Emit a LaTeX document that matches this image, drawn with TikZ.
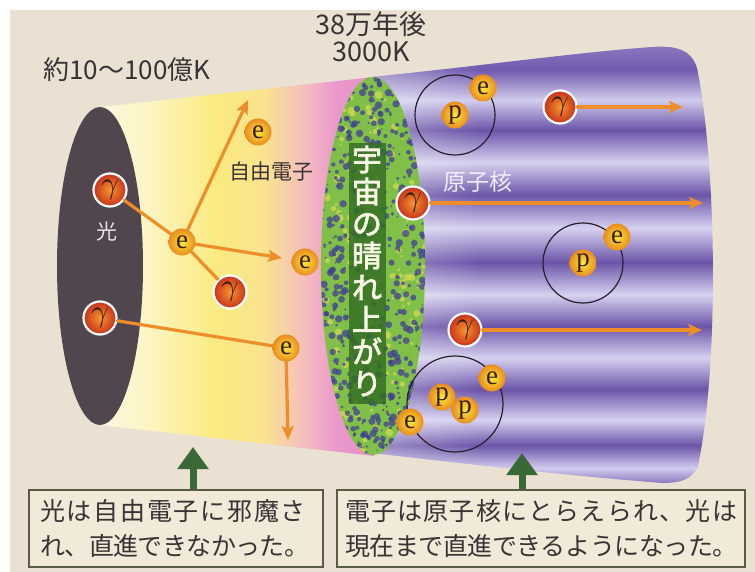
\documentclass[tikz,border=0pt]{standalone}
\usepackage{fontspec}
\usepackage{graphicx}
\newfontfamily\jp{Noto Sans CJK JP}
\newfontfamily\jpheavy{Noto Sans CJK JP}[FakeBold=2.5]
\newfontfamily\serifletters{Liberation Serif}
\usetikzlibrary{arrows.meta,fadings}

\definecolor{paper}{RGB}{234,225,210}
\definecolor{disc}{RGB}{82,70,78}
\definecolor{leaf}{RGB}{128,192,72}
\definecolor{mottle}{RGB}{66,64,146}
\definecolor{speck}{RGB}{205,215,80}
\definecolor{ray}{RGB}{238,142,42}
\definecolor{inkdark}{RGB}{58,50,52}
\definecolor{boxline}{RGB}{88,92,70}
\definecolor{boxfill}{RGB}{241,234,216}
\definecolor{pointer}{RGB}{58,104,54}
\definecolor{bannerdark}{RGB}{52,112,36}
\definecolor{bannerink}{RGB}{248,248,228}
\definecolor{orbitline}{RGB}{40,30,45}
\definecolor{letterink}{RGB}{55,30,10}

% warm cone: pale yellow -> yellow -> pink towards the recombination surface
\pgfdeclarehorizontalshading{conewarm}{100bp}{%
  rgb(0bp)=(0.99,0.97,0.88); rgb(25bp)=(0.99,0.97,0.88);
  rgb(34bp)=(0.99,0.96,0.76); rgb(46bp)=(0.98,0.92,0.50);
  rgb(55bp)=(0.98,0.89,0.56); rgb(62bp)=(0.96,0.75,0.74);
  rgb(68bp)=(0.92,0.60,0.80); rgb(75bp)=(0.90,0.56,0.78);
  rgb(100bp)=(0.90,0.56,0.78)}

% cool cone: violet with pale horizontal bands
\pgfdeclareverticalshading{conecool}{100bp}{%
  rgb(0bp)=(0.55,0.47,0.75); rgb(25bp)=(0.55,0.47,0.75);
  rgb(26.7bp)=(0.82,0.80,0.93); rgb(29.3bp)=(0.42,0.33,0.66);
  rgb(32.2bp)=(0.84,0.82,0.94); rgb(35.7bp)=(0.42,0.33,0.66);
  rgb(39.3bp)=(0.84,0.82,0.94); rgb(42.9bp)=(0.42,0.33,0.66);
  rgb(46.5bp)=(0.84,0.82,0.94); rgb(50.2bp)=(0.42,0.33,0.66);
  rgb(54.1bp)=(0.84,0.82,0.94); rgb(57.9bp)=(0.42,0.33,0.66);
  rgb(61.6bp)=(0.84,0.82,0.94); rgb(65.3bp)=(0.42,0.33,0.66);
  rgb(68.7bp)=(0.82,0.80,0.93); rgb(72.2bp)=(0.44,0.35,0.68);
  rgb(75bp)=(0.55,0.47,0.75); rgb(100bp)=(0.55,0.47,0.75)}

\tikzset{
  photon/.style={circle, inner sep=0pt, minimum size=33pt, draw=white,
    line width=2.2pt, inner color={rgb,255:red,245;green,150;blue,45},
    outer color={rgb,255:red,200;green,48;blue,28}, text=letterink},
  electron/.style={circle, inner sep=0pt, minimum size=27pt,
    inner color={rgb,255:red,252;green,232;blue,60},
    outer color={rgb,255:red,232;green,140;blue,30},
    font=\serifletters\fontsize{27}{27}\selectfont, text=letterink},
  proton/.style={electron},
  orbit/.style={circle, draw=orbitline, line width=1.2pt, inner sep=0pt},
  raypath/.style={draw=ray, line width=3.2pt, line cap=round},
  rayarrow/.style={raypath, -{Stealth[length=14pt,width=12pt,inset=3pt]}},
  caption/.style={text=inkdark, font=\jp\fontsize{26}{30}\selectfont, inner sep=0pt},
  infobox/.style={draw=boxline, line width=2.2pt, fill=boxfill, inner sep=0pt,
    align=left, text=inkdark, font=\jp\fontsize{25}{35}\selectfont},
  pointerarrow/.style={draw=pointer, line width=7pt,
    -{Triangle[length=22pt,width=30pt]}},
  bannertext/.style={align=center, inner sep=0pt, text=bannerink,
    font=\jpheavy\fontsize{30}{32}\selectfont}
}

\newcommand{\gam}{\scalebox{3.1}{$\gamma$}}

\begin{document}
\begin{tikzpicture}[x=1pt,y=-1pt]
\useasboundingbox (0,0) rectangle (755,572);
\fill[white] (0,0) rectangle (755,572);
\fill[paper] (10,10) rectangle (755,572);

% ---- warm cone (early universe) ----
\begin{scope}
  \clip (100,107) -- (374,77) -- (374,456) -- (100,425) -- cycle;
  \shade[shading=conewarm] (100,70) rectangle (374,460);
\end{scope}

% ---- cool cone (after recombination) ----
\def\coolcone{(372,77) .. controls (480,66) and (580,52) .. (652,47)
  .. controls (680,45) and (692,52) .. (697,68)
  .. controls (716,160) and (720,360) .. (698,466)
  .. controls (692,480) and (680,483) .. (662,483)
  .. controls (560,475) and (450,462) .. (372,453) -- cycle}
\begin{scope}
  \clip \coolcone;
  \shade[shading=conecool] (372,45) rectangle (720,483);
  \fill[white, fill opacity=0.35, path fading=east] (372,45) rectangle (480,483);
\end{scope}

% ---- left disc ----
\fill[disc] (100,266) ellipse [x radius=43pt, y radius=159pt];

% ---- recombination surface (mottled) ----
\begin{scope}
  \clip (373,266) ellipse [x radius=52pt, y radius=189pt];
  \fill[leaf] (318,70) rectangle (428,460);
  \pgfmathsetseed{11}
  \foreach \i in {1,...,170}{
    \pgfmathsetmacro{\ang}{rnd*360}
    \pgfmathsetmacro{\rad}{sqrt(rnd)}
    \pgfmathsetmacro{\sz}{1+rnd*3}
    \fill[speck, opacity=0.8] ({373+54*\rad*cos(\ang)},{266+191*\rad*sin(\ang)}) circle (\sz pt);
  }
  \foreach \i in {1,...,480}{
    \pgfmathsetmacro{\ang}{rnd*360}
    \pgfmathsetmacro{\rad}{pow(rnd,0.35)}
    \pgfmathsetmacro{\sz}{0.8+rnd*3}
    \fill[mottle, opacity=0.75] ({373+54*\rad*cos(\ang)},{266+191*\rad*sin(\ang)}) circle (\sz pt);
  }
  % dark band carrying the vertical title
  \fill[bannerdark, opacity=0.85] (349,143) rectangle (386,404);
\end{scope}

% ---- vertical title ----
\node[bannertext] (banner) at (367,271) {宇\\宙\\の\\晴\\れ\\上\\が\\り};

% ---- labels ----
\node[caption] (temphot) at (127,70) {約10〜100億K};
\node[caption, font=\jp\fontsize{27}{30}\selectfont] (age) at (371,24) {38万年後};
\node[caption, font=\jp\fontsize{27}{30}\selectfont] (tempcool) at (371,52) {3000K};
\node[caption, font=\jp\fontsize{21}{24}\selectfont] (freeel) at (271,172) {自由電子};
\node[caption, text={rgb,255:red,232;green,226;blue,236}, font=\jp\fontsize{21}{24}\selectfont] (light) at (107,232) {光};
\node[caption, text={rgb,255:red,240;green,236;blue,246}, font=\jp\fontsize{23}{26}\selectfont] (nucleus) at (478,182) {原子核};

% ---- atoms (orbits) ----
\node[orbit, minimum size=80pt] (orbitA) at (455,115) {};
\node[orbit, minimum size=80pt] (orbitB) at (583,263) {};
\node[orbit, minimum size=96pt] (orbitC) at (455,404) {};

% ---- arrow end points ----
\coordinate (endA) at (248,100);
\coordinate (endB) at (282,258);
\coordinate (endC) at (288,440);
\coordinate (endD) at (683,107);
\coordinate (endE) at (703,203);
\coordinate (endF) at (702,330);

% ---- particles ----
\node[electron] (e1) at (182,242) {e};
\node[electron] (e2) at (258,132) {e};
\node[electron] (e3) at (305,262) {e};
\node[electron] (e4) at (286,348) {e};

\node[photon] (g1) at (110,190) {\gam};
\node[photon] (g2) at (100,318) {\gam};
\node[photon] (g3) at (230,292) {\gam};
\node[photon] (g4) at (560,107) {\gam};
\node[photon] (g5) at (413,203) {\gam};
\node[photon] (g6) at (465,330) {\gam};

\node[proton] (p1) at (455,115) {p};
\node[electron] (e5) at (483,88) {e};
\node[proton] (p2) at (583,263) {p};
\node[electron] (e6) at (617,237) {e};
\node[proton] (p3) at (442,397) {p};
\node[proton] (p4) at (465,410) {p};
\node[electron] (e7) at (492,378) {e};
\node[electron] (e8) at (410,422) {e};

% ---- photon paths ----
\draw[raypath] (g1) -- (e1);
\draw[rayarrow] (e1) -- (endA);
\draw[rayarrow] (e1) -- (endB);
\draw[raypath] (e1) -- (g3);
\draw[raypath] (g2) -- (e4);
\draw[rayarrow] (e4) -- (endC);
\draw[rayarrow] (g4) -- (endD);
\draw[rayarrow] (g5) -- (endE);
\draw[rayarrow] (g6) -- (endF);

% ---- explanation boxes ----
\node[infobox, minimum width=294pt, minimum height=77pt, text width=272pt] (box1) at (176,528.5)
  {{\addfontfeature{LetterSpace=7}光は自由電子に邪魔さ}\\{\addfontfeature{LetterSpace=-2.4}れ、直進できなかった。}};
\node[infobox, minimum width=408pt, minimum height=77pt, text width=392pt] (box2) at (541,528.5)
  {{\addfontfeature{LetterSpace=4.8}電子は原子核にとらえられ、光は}\\{\addfontfeature{LetterSpace=-1.8}現在まで直進できるようになった。}};

\coordinate (tip1) at (193,447);
\coordinate (tip2) at (522,453);
\draw[pointerarrow] (box1.north -| tip1) -- (tip1);
\draw[pointerarrow] (box2.north -| tip2) -- (tip2);
\end{tikzpicture}
\end{document}
